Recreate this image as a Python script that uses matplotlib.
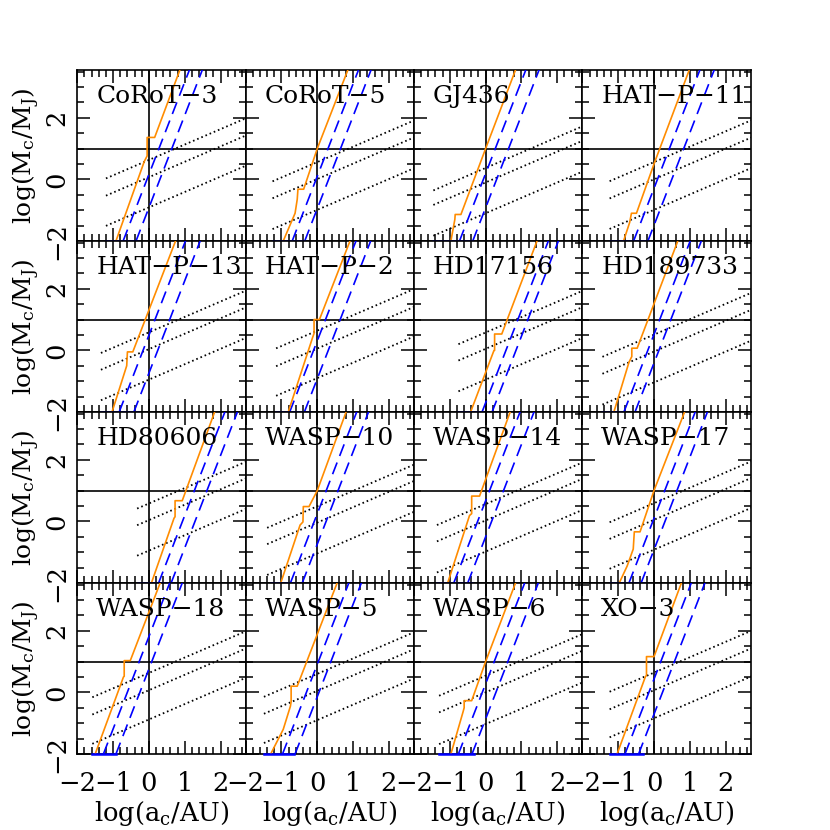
import matplotlib
matplotlib.use("Agg")
import matplotlib.pyplot as plt
from matplotlib.ticker import MultipleLocator, FixedLocator

plt.rcParams['font.family'] = ['DejaVu Serif']
plt.rcParams['mathtext.fontset'] = 'dejavuserif'

names = ["CoRoT-3", "CoRoT-5", "GJ436", "HAT-P-11",
         "HAT-P-13", "HAT-P-2", "HD17156", "HD189733",
         "HD80606", "WASP-10", "WASP-14", "WASP-17",
         "WASP-18", "WASP-5", "WASP-6", "XO-3"]

# orange constraint curve, vertices (log a, log M)
orange_x = [
    [-0.92, -0.13, -0.05, -0.05, 0.16, 0.88],
    [-0.95, -0.62, -0.56, -0.54, -0.38, 0.0, 0.87],
    [-0.97, -0.86, -0.85, -0.69, 0.0, 0.85],
    [-0.85, -0.68, -0.63, -0.49, 0.0, 1.0],
    [-1.03, -0.62, -0.60, -0.45, 0.76],
    [-0.81, -0.13, -0.09, -0.09, 0.06, 0.93],
    [-0.42, 0.23, 0.25, 0.25, 0.45, 1.45],
    [-1.12, -0.70, -0.62, -0.62, -0.47, 0.68],
    [0.07, 0.70, 0.73, 0.73, 0.93, 1.85],
    [-1.02, -0.48, -0.40, -0.39, -0.23, 0.0, 0.82],
    [-1.06, -0.45, -0.39, -0.39, -0.17, 0.70],
    [-0.97, -0.75, -0.58, -0.55, -0.39, 0.0, 0.87],
    [-1.50, -0.71, -0.69, -0.69, -0.52, 0.33],
    [-1.30, -0.95, -0.75, -0.73, -0.73, -0.56, 0.57],
    [-0.97, -0.63, -0.60, -0.60, -0.39, 0.0, 0.85],
    [-1.03, -0.24, -0.21, -0.21, 0.0, 0.78],
]
orange_y = [
    [-2.0, 0.58, 0.76, 1.36, 1.36, 3.6],
    [-2.0, -1.1, -0.65, -0.32, -0.32, 1.0, 3.6],
    [-2.0, -1.3, -1.14, -1.14, 1.0, 3.6],
    [-2.0, -1.4, -1.1, -1.1, 0.5, 3.6],
    [-2.0, -0.5, -0.05, -0.05, 3.6],
    [-2.0, 0.42, 0.55, 1.0, 1.0, 3.6],
    [-2.0, -0.01, 0.0, 0.53, 0.53, 3.6],
    [-2.0, -0.39, -0.2, 0.07, 0.07, 3.6],
    [-2.0, 0.10, 0.15, 0.67, 0.67, 3.6],
    [-2.0, -0.12, -0.02, 0.48, 0.48, 1.0, 3.6],
    [-2.0, 0.19, 0.25, 0.82, 0.82, 3.6],
    [-2.0, -1.45, -0.9, -0.34, -0.34, 1.0, 3.6],
    [-2.0, 0.50, 0.52, 1.03, 1.03, 3.6],
    [-2.0, -1.2, -0.45, -0.3, 0.2, 0.2, 3.6],
    [-2.0, -0.63, -0.5, -0.27, -0.27, 1.0, 3.6],
    [-2.0, 0.51, 0.55, 1.16, 1.16, 3.6],
]

# blue dashed lines (slope 3): log a where log M = -2
dash_a = [-0.72, -0.70, -0.73, -0.57, -0.83, -0.77, -0.10, -0.84,
          0.27, -0.75, -0.89, -0.70, -1.27, -0.97, -0.76, -0.81]
dash_b = [-0.36, -0.35, -0.36, -0.17, -0.42, -0.36, 0.18, -0.53,
          0.62, -0.42, -0.50, -0.36, -0.92, -0.62, -0.38, -0.43]
dash_slope = 3.0

# dotted RV lines (slope 1/2): intercept at log a = 0, and start in log a
dot_hi = [0.63, 0.56, 0.37, 0.56, 0.585, 0.64, 0.58, 0.51,
          0.58, 0.49, 0.56, 0.59, 0.63, 0.60, 0.54, 0.64]
dot_mid = [0.07, 0.01, -0.10, 0.0, 0.04, 0.06, 0.05, -0.04,
           0.04, -0.04, 0.03, 0.05, 0.07, 0.05, 0.0, 0.07]
dot_lo = [-0.91, -0.99, -1.10, -0.99, -0.95, -0.90, -0.95, -1.04,
          -0.95, -1.04, -0.98, -0.92, -0.88, -0.90, -1.03, -0.84]
dot_start = [-1.20, -1.25, -1.46, -1.24, -1.34, -1.15, -0.76, -1.44,
             -0.33, -1.40, -1.36, -1.24, -1.58, -1.49, -1.30, -1.24]
dot_slope = 0.5

# blue segment along the lower boundary
seg_lo = [-1.20, -1.25, -1.46, -1.24, -1.34, -1.15, -0.76, -1.44,
          -0.30, -1.30, -1.36, -1.24, -1.58, -1.49, -1.30, -1.24]
seg_hi = [-0.30, -0.42, -0.39, -0.24, -0.30, -0.21, -0.09, -0.84,
          0.65, -0.62, -0.39, -0.30, -0.93, -0.65, -0.33, -0.30]

xlim = (-2.0, 2.7)
ylim = (-2.0, 3.55)
x_major = [-2, -1, 0, 1, 2]
y_major = [-2, 0, 2]

fig, axes = plt.subplots(4, 4, figsize=(8.3, 8.3), dpi=100)
fig.subplots_adjust(left=0.0931, right=0.9045, top=0.9157, bottom=0.0916,
                    wspace=0, hspace=0)

lw = 1.2
for k, ax in enumerate(axes.flat):
    r, c = divmod(k, 4)
    ax.set_xlim(*xlim)
    ax.set_ylim(*ylim)
    ax.axhline(1.0, color='black', lw=1.2, zorder=1)
    ax.axvline(0.0, color='black', lw=1.2, zorder=1)
    # dotted lines
    xd = [dot_start[k], xlim[1] + 0.1]
    for cc in (dot_hi[k], dot_mid[k], dot_lo[k]):
        ax.plot(xd, [cc + dot_slope * v for v in xd], color='black', lw=1.3,
                linestyle=(0, (0.9, 1.6)), zorder=2)
    # dashed lines
    for xb in (dash_a[k], dash_b[k]):
        xx = [xb - 0.2, xb + 2.2]
        ax.plot(xx, [-2.0 + dash_slope * (v - xb) for v in xx], color='#0000ff',
                lw=lw, linestyle=(0, (7.5, 4.2)), zorder=3)
    # bottom segment
    ax.plot([seg_lo[k], seg_hi[k]], [ylim[0], ylim[0]], color='#0000ff', lw=1.8,
            clip_on=False, zorder=6)
    # orange curve
    ax.plot(orange_x[k], orange_y[k], color='#ff8c00', lw=lw, zorder=4)
    ax.text(-1.47, 2.68, names[k].replace('-', '\u2212'), fontsize=18,
            ha='left', va='center', zorder=5)

    ax.xaxis.set_major_locator(FixedLocator(x_major))
    ax.yaxis.set_major_locator(FixedLocator(y_major))
    ax.xaxis.set_minor_locator(MultipleLocator(0.2))
    ax.yaxis.set_minor_locator(MultipleLocator(0.5))
    ax.tick_params(which='both', direction='in', top=True, right=True,
                   width=1.1, labelsize=18.5)
    ax.tick_params(which='major', length=9.5)
    ax.tick_params(which='minor', length=4.8)
    ax.tick_params(axis='x', pad=12)
    ax.tick_params(axis='y', pad=6)
    for s in ax.spines.values():
        s.set_linewidth(1.2)
    if r < 3:
        ax.set_xticklabels([])
    if c > 0:
        ax.set_yticklabels([])
    else:
        for t in ax.get_yticklabels():
            t.set_rotation(90)
            t.set_va('center')

    if c == 0:
        pos = ax.get_position()
        fig.text(0.032, (pos.y0 + pos.y1) / 2, r'log(M$_{\rm c}$/M$_{\rm J}$)',
                 rotation=90, ha='center', va='center', fontsize=18)
    if r == 3:
        pos = ax.get_position()
        fig.text((pos.x0 + pos.x1) / 2, 0.020, r'log(a$_{\rm c}$/AU)',
                 ha='center', va='center', fontsize=18.5)

fig.savefig('out.png', dpi=100)
